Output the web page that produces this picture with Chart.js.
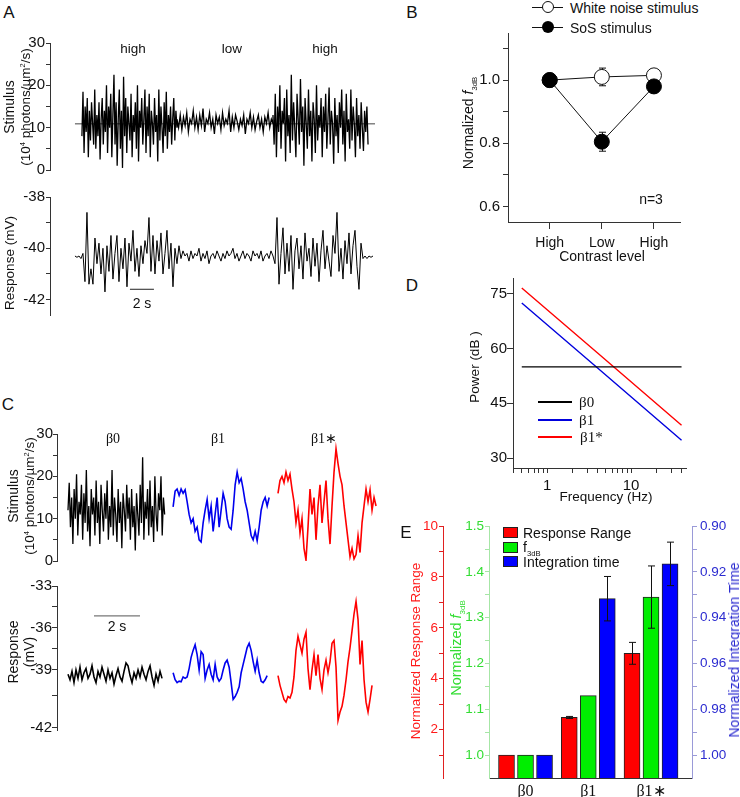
<!DOCTYPE html>
<html>
<head>
<meta charset="utf-8">
<title>Contrast adaptation</title>
<script src="https://cdn.jsdelivr.net/npm/chart.js@4.4.1/dist/chart.umd.min.js"></script>
<style>
  html, body { margin: 0; padding: 0; background: #fff; }
  #fig { position: relative; width: 740px; height: 797px; overflow: hidden;
         font-family: "Liberation Sans", Arial, sans-serif; color: #111; }
  #fig canvas { position: absolute; }
  .t { position: absolute; white-space: nowrap; line-height: 1; font-size: 14px;
       transform: translate(-50%, -50%); }
  .t.rot { transform: translate(-50%, -50%) rotate(-90deg); }
  .t.left { transform: translate(0, -50%); }
  .serif { font-family: "Liberation Serif", "Times New Roman", serif; }
  .letter { font-size: 17px; }
  sup, sub { font-size: 0.55em; line-height: 0; }
  .sw { position: absolute; box-sizing: border-box; }
</style>
</head>
<body>
<div id="fig">
  <canvas id="aStim" width="390" height="150" style="left:0;top:30px"></canvas>
  <canvas id="aResp" width="390" height="140" style="left:0;top:185px"></canvas>
  <canvas id="bChart" width="300" height="240" style="left:440px;top:20px"></canvas>
  <canvas id="cStim" width="395" height="150" style="left:0;top:420px"></canvas>
  <canvas id="cResp" width="395" height="170" style="left:0;top:570px"></canvas>
  <canvas id="dChart" width="300" height="240" style="left:440px;top:265px"></canvas>
  <canvas id="eChart" width="340" height="282" style="left:400px;top:515px"></canvas>

  <!-- panel letters -->
  <div class="t letter" style="left:9px;top:12px">A</div>
  <div class="t letter" style="left:412px;top:12px">B</div>
  <div class="t letter" style="left:8px;top:404px">C</div>
  <div class="t letter" style="left:412px;top:285px">D</div>
  <div class="t letter" style="left:406px;top:532px">E</div>

  <!-- A -->
  <div class="t" style="left:133px;top:49px;font-size:13.5px">high</div>
  <div class="t" style="left:232px;top:49px;font-size:13.5px">low</div>
  <div class="t" style="left:325px;top:49px;font-size:13.5px">high</div>
  <div class="t rot" style="left:9px;top:107px">Stimulus</div>
  <div class="t rot" style="left:26px;top:107px;font-size:13.5px">(10<sup>4</sup> photons/µm<sup>2</sup>/s)</div>
  <div class="t rot" style="left:10px;top:263px;font-size:13.5px">Response (mV)</div>
  <div class="t" style="left:142px;top:303px">2 s</div>

  <!-- B -->
  <div class="sw" style="left:532px;top:7px;width:31px;height:1px;background:#111"></div>
  <div class="sw" style="left:542px;top:1px;width:12px;height:12px;border:1px solid #111;border-radius:50%;background:#fff"></div>
  <div class="t left" style="left:570px;top:7.5px">White noise stimulus</div>
  <div class="sw" style="left:532px;top:27px;width:31px;height:1px;background:#111"></div>
  <div class="sw" style="left:542px;top:21px;width:12px;height:12px;border-radius:50%;background:#000"></div>
  <div class="t left" style="left:570px;top:27.5px">SoS stimulus</div>
  <div class="t rot" style="left:468px;top:123px">Normalized <i>f</i><sub>3dB</sub></div>
  <div class="t" style="left:602px;top:256px">Contrast level</div>
  <div class="t" style="left:651px;top:199px">n=3</div>

  <!-- C -->
  <div class="t serif" style="left:113px;top:439px">β0</div>
  <div class="t serif" style="left:218px;top:439px">β1</div>
  <div class="t serif" style="left:324px;top:439px">β1∗</div>
  <div class="t rot" style="left:13px;top:496px">Stimulus</div>
  <div class="t rot" style="left:30px;top:496px;font-size:13.5px">(10<sup>4</sup> photons/µm<sup>2</sup>/s)</div>
  <div class="t rot" style="left:13px;top:652px">Response</div>
  <div class="t rot" style="left:29px;top:652px">(mV)</div>
  <div class="t" style="left:117px;top:626px">2 s</div>

  <!-- D -->
  <div class="t rot" style="left:475px;top:367px;font-size:13.5px">Power (dB )</div>
  <div class="t" style="left:606px;top:497px;font-size:13.5px">Frequency (Hz)</div>
  <div class="sw" style="left:538px;top:401px;width:34px;height:1.6px;background:#000"></div>
  <div class="t left serif" style="left:579px;top:402px;font-size:15px">β0</div>
  <div class="sw" style="left:538px;top:419px;width:34px;height:1.6px;background:#0000dd"></div>
  <div class="t left serif" style="left:579px;top:420px;font-size:15px">β1</div>
  <div class="sw" style="left:538px;top:436px;width:34px;height:1.6px;background:#ff0000"></div>
  <div class="t left serif" style="left:580px;top:437px;font-size:15px">β1*</div>

  <!-- E -->
  <div class="t rot" style="left:416px;top:651px;color:#ff1a1a;font-size:13.5px">Normalized Response Range</div>
  <div class="t rot" style="left:456px;top:648px;color:#33dd33;font-size:14.5px">Normalized <i>f</i><sub>3dB</sub></div>
  <div class="t rot" style="left:734px;top:650px;color:#2b2bd0">Normalized Integration Time</div>
  <div class="sw" style="left:503px;top:527px;width:15px;height:11px;background:#ff0000;border:1px solid #222"></div>
  <div class="t left" style="left:523px;top:532.5px">Response Range</div>
  <div class="sw" style="left:503px;top:542px;width:15px;height:11px;background:#00ee00;border:1px solid #222"></div>
  <div class="t left" style="left:523px;top:547px">f<sub>3dB</sub></div>
  <div class="sw" style="left:503px;top:556px;width:15px;height:11px;background:#0000ff;border:1px solid #222"></div>
  <div class="t left" style="left:523px;top:561.5px">Integration time</div>
</div>

<script>
// ---------- A: stimulus switching high / low / high contrast ----------
const aStimHigh1 = [8, 18.5, 4, 15, 9, 17, 3, 14, 7, 16,
  11, 6, 19, 5, 13, 8, 16, 2.5, 12, 17,
  6, 14, 9, 20, 4, 15, 10, 18, 3, 13,
  22.5, 6, 16, 1, 12, 19, 5, 14, 0.5, 22,
  8, 17, 4, 15, 11, 7, 18, 3, 13, 9,
  16, 5, 20, 2, 14, 10, 17, 6, 12, 19,
  4, 15, 8, 18, 3, 14, 11, 6, 17, 9,
  13, 2, 19, 7, 15, 10, 4, 16, 8, 18.5,
  5, 13, 9, 15, 6, 12, 17, 7, 14, 10];
const aStimLow = [12, 10, 13, 9.5, 12.5, 10.5, 13.5, 9, 12, 11,
  14, 10, 12.5, 9.5, 13, 10.5, 14.5, 9, 12, 11,
  13.5, 10, 12, 8.5, 13, 11, 12.5, 9.5, 13.5, 10.5,
  12, 11, 14, 9, 12.5, 10, 13, 11.5, 9.5, 12,
  10.5, 13, 8.5, 12, 11, 13.5, 10, 12.5, 9.5, 11.5,
  13, 10, 12, 9, 12.5, 11, 13.5, 10, 12, 11];
const aStimHigh2 = [13, 6, 18, 3, 15, 9, 20, 5, 14, 11,
  17, 2, 19, 8, 13, 4, 22.5, 7, 16, 10,
  3, 18, 12, 6, 21.5, 9, 15, 1, 17, 11,
  5, 19, 8, 14, 2, 16, 12, 4, 20, 7,
  13, 10, 17, 3, 15, 9, 18, 5, 12, 19.5,
  6, 14, 11, 1.5, 17, 8, 13, 4, 16, 10,
  19, 6, 14, 2, 18, 9, 12, 5, 19, 7,
  15, 11, 3, 17, 8, 13, 5, 16, 10, 4.5,
  14, 9, 15, 6];
const aStimMean = 10.9;
const aResponse = [
  -40.3, -40.35, -40.3, -40.4,
  -40.2, -41.3, -38.6, -41.4, -40.8, -41.4, -39.6, -40.6, -39.8, -41.0,
  -40.0, -41.7, -39.9, -40.9, -39.5, -41.2, -40.2, -39.5, -41.3, -40.0,
  -40.8, -39.6, -41.5, -39.8, -40.5, -39.3, -40.9, -40.0, -41.1, -39.9,
  -40.6, -39.7, -40.2, -38.8, -40.9, -39.5, -41.0, -39.7, -40.5, -39.4,
  -41.0, -40.2, -39.3, -40.8, -39.8, -41.5, -40.0, -40.6, -39.9,
  -40.4, -40.1, -40.3, -40.2, -40.5, -40.1, -40.4, -40.2, -40.3, -40.0,
  -40.5, -40.2, -40.4, -40.1, -40.6, -40.3, -40.2, -40.4, -40.1, -40.3,
  -40.5, -40.2, -40.4, -40.1, -40.3, -40.2, -40.0, -40.4, -40.2, -40.5,
  -40.3, -40.1, -40.4, -40.2, -40.3, -40.5, -40.1, -40.3, -40.2, -40.4,
  -40.1, -40.5, -40.3, -40.2, -40.4, -40.1, -40.3, -40.6,
  -38.8, -41.4, -40.2, -39.2, -41.0, -39.8, -40.9, -39.5, -41.6, -40.1,
  -39.6, -40.8, -39.9, -41.2, -39.4, -40.5, -40.0, -41.1, -39.6, -40.7,
  -39.8, -41.3, -40.1, -39.3, -40.8, -39.9, -40.5, -41.1, -39.5, -40.2,
  -38.6, -40.9, -40.0, -41.2, -39.7, -40.6, -39.4, -41.0, -39.9, -39.3,
  -40.7, -41.6, -39.8, -40.4, -40.3, -40.4,
  -40.3, -40.35, -40.3];
const aSegmentTimes = [0.58, 8.5, 16.5, 24.42];   // s: high | low | high
const aTraceSpan = [0, 25];                         // s
const aRespDt = 1 / 6;                              // s per sample
const aScaleBar = { start: 4.58, length: 2, level: -41.6 };
const aStimTicks = [0, 5, 10, 15, 20, 25, 30];
const aStimTickLabels = [0, 10, 20, 30];
const aRespTicks = [-42, -41, -40, -39, -38];
const aRespTickLabels = [-42, -40, -38];

// ---------- B: normalized f3dB vs contrast ----------
const contrastLevels = ['High', 'Low', 'High'];
const whiteNoiseF3db = [1.0, 1.01, 1.015];
const whiteNoiseSem = [0, 0.028, 0.015];
const sosF3db = [1.0, 0.805, 0.98];
const sosSem = [0, 0.03, 0.01];
const bTicks = [0.6, 0.7, 0.8, 0.9, 1.0, 1.1];
const bTickLabels = [0.6, 0.8, 1.0];

// ---------- C: β0 / β1 / β1* stimuli and responses ----------
const cStimBeta0 = [12, 18.5, 8, 15, 4, 17, 10, 20.5, 6, 14,
  11, 18, 5, 16, 9, 21.5, 7, 13, 3.5, 17,
  11, 15, 6, 19, 9, 14, 4, 18, 12, 7,
  16, 10, 19, 5, 13, 8, 21.5, 6, 15, 11,
  4.5, 17, 9, 14, 3, 16, 12, 7, 18, 10,
  15, 5, 17, 8, 13, 2.5, 16, 11, 6, 18,
  9, 24.5, 5, 14, 10, 17, 6, 19, 8, 13,
  4.5, 20, 11, 7, 16, 12, 20, 6, 15, 11];
const cStimBeta1 = [12.8, 16.5, 17, 15.5, 17, 16, 16.8, 14, 11, 9,
  10, 7, 8, 5, 4.5, 9, 12, 14.5, 10, 13,
  7, 11, 15, 8, 12, 16, 14, 10, 8, 7.5,
  12, 18, 21, 18.5, 19.5, 17, 14, 12, 9, 6,
  5, 7, 4.8, 8, 12, 14, 15, 13, 15];
const cStimBeta1s = [16, 19, 20, 18.5, 21, 19, 20.5, 17, 14, 9,
  12, 6.6, 10, 3, 0.2, 8, 17, 11, 15, 5,
  13, 18, 9, 14, 19, 10, 4, 13, 21, 26.5,
  23, 20, 18, 13, 9, 5, 1, 3, 0.5, 1.5,
  6, 2, 9, 13, 17, 14, 16.8, 12, 15, 13];
const cRespBeta0 = [-39.3, -39.7, -39.1, -39.9, -39.0, -39.6, -38.8, -39.7, -39.2, -38.9,
  -39.6, -39.3, -38.7, -39.5, -39.9, -39.1, -39.5, -38.8, -39.3, -39.8,
  -39.0, -39.6, -39.2, -40.0, -39.4, -38.9, -39.5, -39.8, -39.1, -38.5,
  -38.7, -39.4, -39.9, -39.2, -39.6, -39.0, -39.5, -38.8, -39.3, -39.7,
  -39.1, -38.7, -39.5, -40.1, -39.3, -39.8, -39.1, -39.6];
const cRespBeta1 = [-39.2, -39.7, -39.9, -39.8, -39.85, -39.5, -39.6, -39.5, -38.9, -38.1,
  -37.6, -37.2, -37.9, -39.0, -37.7, -37.9, -39.6, -39.0, -38.6, -39.3,
  -39.7, -38.6, -39.5, -39.8, -39.6, -39.0, -38.5, -38.3, -38.8, -39.9,
  -41.1, -40.9, -40.6, -40.2, -39.2, -38.6, -38.0, -37.4, -37.1, -37.6,
  -38.4, -39.1, -38.3, -39.2, -39.8, -39.9, -39.7, -39.4];
const cRespBeta1s = [-39.4, -40.1, -40.6, -41.1, -41.3, -40.9, -41.0, -40.6, -39.5, -37.6,
  -36.6, -37.2, -37.8, -36.8, -36.3, -38.9, -40.4, -39.0, -37.9, -39.4,
  -37.9, -39.6, -40.4, -39.0, -38.3, -39.2, -38.4, -37.1, -36.9, -38.8,
  -42.6, -42.0, -41.6, -40.8, -39.7, -38.4, -37.4, -36.2, -35.0, -34.1,
  -35.4, -38.6, -36.9, -39.7, -41.3, -42.0, -41.1, -40.1];
const cTraceStart = [0, 4.57, 9.13];        // s, start of each stimulus class
const cStimDt = [0.0532, 0.087, 0.087];     // s per sample
const cRespDt = 0.087;                      // s per sample
const cScaleBar = { start: 1.13, length: 2, level: -35.14 };
const cStimTicks = [0, 5, 10, 15, 20, 25, 30];
const cStimTickLabels = [0, 10, 20, 30];
const cRespTicks = [-33, -34.5, -36, -37.5, -39, -40.8, -43.14];
const cRespTickText = { '-33': '-33', '-36': '-36', '-39': '-39', '-43.14': '-42' };

// ---------- D: power spectra ----------
const psdFreqHz = [0.5, 4, 40];
const psdBeta0 = [55, 55, 55];
const psdBeta1 = [72.5, 54.7, 34.9];
const psdBeta1s = [76.6, 58.8, 39.0];
const dPowerTicks = [30, 45, 60, 75];
const dFreqTicks = [0.4, 0.5, 0.6, 0.7, 0.8, 0.9, 1, 2, 3, 4, 5, 6, 7, 8, 9, 10, 20, 30, 40];
const dFreqTickLabels = [1, 10];

// ---------- E: normalized measures per stimulus class ----------
const stimClasses = ['β0', 'β1', 'β1∗'];
const respRange = [1.0, 2.48, 5.0];
const respRangeSem = [0, 0.04, 0.43];
const f3db = [1.0, 1.13, 1.345];
const f3dbSem = [0, 0, 0.068];
const intTime = [1.0, 0.9317, 0.9165];
const intTimeSem = [0, 0.0097, 0.0095];
const eRangeTicks = [1, 2, 3, 4, 5, 6, 7, 8, 9, 10];
const eRangeTickLabels = [2, 4, 6, 8, 10];
const eF3dbTicks = [1.0, 1.05, 1.1, 1.15, 1.2, 1.25, 1.3, 1.35, 1.4, 1.45, 1.5];
const eF3dbTickLabels = [1.0, 1.1, 1.2, 1.3, 1.4, 1.5];
const eTimeTicks = [0.90, 0.91, 0.92, 0.93, 0.94, 0.95, 0.96, 0.97, 0.98, 0.99, 1.00];
const eTimeTickLabels = [0.90, 0.92, 0.94, 0.96, 0.98, 1.00];

// ---------- helpers ----------
const AXIS = '#333';
Chart.defaults.font.family = '"Liberation Sans", Arial, sans-serif';
Chart.defaults.color = '#111';

function spread(values, t0, t1) {
  const step = (t1 - t0) / (values.length - 1);
  return values.map((v, i) => ({ x: t0 + i * step, y: v }));
}

function sampled(values, t0, dt) {
  return values.map((v, i) => ({ x: t0 + i * dt, y: v }));
}

function trace(points, color, width, order) {
  return {
    data: points, borderColor: color, borderWidth: width,
    pointRadius: 0, tension: 0, fill: false, order: order || 0
  };
}

function yAxis(o) {
  return {
    type: 'linear',
    position: o.position || 'left',
    min: o.min, max: o.max,
    bounds: 'data',
    reverse: !!o.reverse,
    weight: o.weight || 0,
    afterBuildTicks: s => { s.ticks = o.ticks.map(v => ({ value: v })); },
    afterFit: s => { s.width = o.width; },
    ticks: {
      autoSkip: false,
      padding: o.pad !== undefined ? o.pad : 1,
      color: o.color || '#111',
      font: { size: o.size || 15 },
      callback: v => o.label(v)
    },
    grid: { drawOnChartArea: false, tickLength: o.tick || 4, color: o.line || AXIS, tickColor: o.line || AXIS },
    border: { color: o.line || AXIS, width: 1 }
  };
}

function showOnly(list, digits) {
  return v => list.includes(v) ? (digits ? v.toFixed(digits) : String(v)) : '';
}

function baseOptions(padding, scales, extraPlugins) {
  return {
    responsive: false,
    animation: false,
    devicePixelRatio: 1,
    events: [],
    layout: { padding: padding, autoPadding: false },
    plugins: Object.assign({ legend: { display: false }, tooltip: { enabled: false } }, extraPlugins || {}),
    scales: scales
  };
}

// error bars drawn from each dataset's `sem` array
function drawErrorBars(chart) {
  const ctx = chart.ctx;
  chart.data.datasets.forEach((ds, i) => {
    if (!ds.sem) return;
    const meta = chart.getDatasetMeta(i);
    const ys = chart.scales[meta.yAxisID];
    ctx.save();
    ctx.strokeStyle = '#111';
    ctx.lineWidth = 1;
    meta.data.forEach((el, j) => {
      const e = ds.sem[j];
      if (!e) return;
      const v = ds.data[j].y;
      const x = Math.round(el.x) + 0.5;
      const y1 = ys.getPixelForValue(v - e);
      const y2 = ys.getPixelForValue(v + e);
      ctx.beginPath();
      ctx.moveTo(x, y1); ctx.lineTo(x, y2);
      ctx.moveTo(x - 3.5, y1); ctx.lineTo(x + 3.5, y1);
      ctx.moveTo(x - 3.5, y2); ctx.lineTo(x + 3.5, y2);
      ctx.stroke();
    });
    ctx.restore();
  });
}

const errorBars = {
  id: 'errorBars',
  beforeDatasetsDraw(chart, args, opts) { if (opts.behind) drawErrorBars(chart); },
  afterDatasetsDraw(chart, args, opts) { if (!opts.behind) drawErrorBars(chart); }
};

// ---------- A ----------
const aStimPoints = [].concat(
  spread(aStimHigh1, aSegmentTimes[0], aSegmentTimes[1]),
  spread(aStimLow, aSegmentTimes[1], aSegmentTimes[2]),
  spread(aStimHigh2, aSegmentTimes[2], aSegmentTimes[3])
);

new Chart(document.getElementById('aStim'), {
  type: 'line',
  data: {
    datasets: [
      trace(aStimPoints, '#000', 1.3, 0),
      trace(aTraceSpan.map(t => ({ x: t, y: aStimMean })), '#444', 1, 1)
    ]
  },
  options: baseOptions({ left: 0, right: 15, top: 13, bottom: 10 }, {
    x: { type: 'linear', min: -2.08, max: 25, display: false },
    y: yAxis({ min: 0, max: 30, ticks: aStimTicks, label: showOnly(aStimTickLabels), width: 50, tick: 4, pad: 1 })
  })
});

new Chart(document.getElementById('aResp'), {
  type: 'line',
  data: {
    datasets: [
      trace(sampled(aResponse, 0, aRespDt), '#000', 1, 0),
      trace([{ x: aScaleBar.start, y: aScaleBar.level },
             { x: aScaleBar.start + aScaleBar.length, y: aScaleBar.level }], '#555', 1.3, 1)
    ]
  },
  options: baseOptions({ left: 0, right: 15, top: 12, bottom: 5 }, {
    x: { type: 'linear', min: -2.08, max: 25, display: false },
    y: yAxis({ min: -42.6, max: -38, ticks: aRespTicks, label: showOnly(aRespTickLabels), width: 50, tick: 4, pad: 1 })
  })
});

// ---------- B ----------
new Chart(document.getElementById('bChart'), {
  type: 'line',
  data: {
    datasets: [
      {
        label: 'SoS stimulus',
        data: contrastLevels.map((c, i) => ({ x: i, y: sosF3db[i] })),
        sem: sosSem,
        borderColor: '#111', borderWidth: 1,
        pointRadius: 7.5, pointBorderWidth: 1,
        pointBackgroundColor: '#000', pointBorderColor: '#000',
        order: 0
      },
      {
        label: 'White noise stimulus',
        data: contrastLevels.map((c, i) => ({ x: i, y: whiteNoiseF3db[i] })),
        sem: whiteNoiseSem,
        borderColor: '#111', borderWidth: 1,
        pointRadius: 7.5, pointBorderWidth: 1,
        pointBackgroundColor: '#fff', pointBorderColor: '#111',
        order: 1
      }
    ]
  },
  options: baseOptions({ left: 0, right: 60, top: 13, bottom: 8 }, {
    x: {
      type: 'linear', min: -0.8, max: 2.5, bounds: 'data',
      afterBuildTicks: s => { s.ticks = contrastLevels.map((c, i) => ({ value: i })); },
      afterFit: s => { s.height = 30; },
      ticks: { autoSkip: false, maxRotation: 0, padding: 6, font: { size: 14 }, callback: v => contrastLevels[v] },
      grid: { drawOnChartArea: false, tickLength: 7, color: AXIS, tickColor: AXIS },
      border: { color: AXIS, width: 1 }
    },
    y: yAxis({ min: 0.551, max: 1.149, ticks: bTicks, label: showOnly(bTickLabels, 1), width: 68, tick: 5, pad: 3 })
  }, { errorBars: { behind: true } }),
  plugins: [errorBars]
});

// ---------- C ----------
const cStimSets = [cStimBeta0, cStimBeta1, cStimBeta1s];
const cRespSets = [cRespBeta0, cRespBeta1, cRespBeta1s];
const cColors = ['#000', '#0000ee', '#ff0000'];
const cStimWidths = [1.3, 1.6, 1.6];

new Chart(document.getElementById('cStim'), {
  type: 'line',
  data: {
    datasets: cStimSets.map((vals, k) =>
      trace(sampled(vals, cTraceStart[k], cStimDt[k]), cColors[k], cStimWidths[k], 0))
  },
  options: baseOptions({ left: 0, right: 15, top: 14, bottom: 9 }, {
    x: { type: 'linear', min: -0.478, max: 13.565, display: false },
    y: yAxis({ min: 0, max: 30, ticks: cStimTicks, label: showOnly(cStimTickLabels), width: 57, tick: 4, pad: 0 })
  })
});

new Chart(document.getElementById('cResp'), {
  type: 'line',
  data: {
    datasets: cRespSets.map((vals, k) =>
      trace(sampled(vals, cTraceStart[k], cRespDt), cColors[k], 1.6, 0))
      .concat([trace([{ x: cScaleBar.start, y: cScaleBar.level },
                      { x: cScaleBar.start + cScaleBar.length, y: cScaleBar.level }], '#777', 1.2, 1)])
  },
  options: baseOptions({ left: 0, right: 15, top: 16, bottom: 10 }, {
    x: { type: 'linear', min: -0.478, max: 13.565, display: false },
    y: yAxis({ min: -43.29, max: -33, ticks: cRespTicks, label: v => cRespTickText[String(v)] || '', width: 57, tick: 5, pad: 0 })
  })
});

// ---------- D ----------
new Chart(document.getElementById('dChart'), {
  type: 'line',
  data: {
    datasets: [
      trace(psdFreqHz.map((f, i) => ({ x: f, y: psdBeta0[i] })), '#000', 1.4, 0),
      trace(psdFreqHz.map((f, i) => ({ x: f, y: psdBeta1[i] })), '#0000dd', 1.4, 0),
      trace(psdFreqHz.map((f, i) => ({ x: f, y: psdBeta1s[i] })), '#ff0000', 1.4, 0)
    ]
  },
  options: baseOptions({ left: 0, right: 54, top: 13, bottom: 0 }, {
    x: {
      type: 'logarithmic', min: 0.393, max: 45.2, bounds: 'data',
      afterBuildTicks: s => { s.ticks = dFreqTicks.map(v => ({ value: v })); },
      afterFit: s => { s.height = 37; },
      ticks: { autoSkip: false, maxRotation: 0, padding: 4, font: { size: 15 }, callback: v => dFreqTickLabels.includes(v) ? String(v) : '' },
      grid: { drawOnChartArea: false, tickLength: 5, color: AXIS, tickColor: AXIS },
      border: { color: AXIS, width: 1 }
    },
    y: yAxis({ min: 27.27, max: 79.36, ticks: dPowerTicks, label: showOnly(dPowerTicks), width: 73, tick: 6, pad: 0 })
  })
});

// ---------- E ----------
const barShift = [-0.303, 0, 0.303];   // red / green / blue within a class
const eTimeBase = 1.01;

new Chart(document.getElementById('eChart'), {
  type: 'bar',
  data: {
    datasets: [
      {
        label: 'Response Range', yAxisID: 'yR',
        data: stimClasses.map((c, i) => ({ x: i + barShift[0], y: respRange[i] })),
        sem: respRangeSem, backgroundColor: '#ff0000'
      },
      {
        label: 'f3dB', yAxisID: 'yG',
        data: stimClasses.map((c, i) => ({ x: i + barShift[1], y: f3db[i] })),
        sem: f3dbSem, backgroundColor: '#00ee00'
      },
      {
        label: 'Integration time', yAxisID: 'yB', base: eTimeBase,
        data: stimClasses.map((c, i) => ({ x: i + barShift[2], y: intTime[i] })),
        sem: intTimeSem, backgroundColor: '#0000ff'
      }
    ]
  },
  options: Object.assign(baseOptions({ left: 0, right: 0, top: 10, bottom: 0 }, {
    x: {
      type: 'linear', min: -0.582, max: 2.653, offset: false, bounds: 'data',
      afterBuildTicks: s => { s.ticks = stimClasses.map((c, i) => ({ value: i })); },
      afterFit: s => { s.height = 19; },
      ticks: { autoSkip: false, maxRotation: 0, padding: 4,
               font: { family: '"Liberation Serif", "Times New Roman", serif', size: 16 },
               callback: v => stimClasses[v] },
      grid: { display: false, drawTicks: false, offset: false },
      border: { display: true, color: AXIS, width: 1 }
    },
    yG: yAxis({ min: 0.95, max: 1.5, ticks: eF3dbTicks, label: showOnly(eF3dbTickLabels, 1),
                width: 46, tick: 4, pad: 1, size: 13.5, color: '#33dd33', line: '#a6e6a6', weight: 0 }),
    yR: yAxis({ min: 0.1, max: 10, ticks: eRangeTicks, label: showOnly(eRangeTickLabels),
                width: 43, tick: 4, pad: 1, size: 13.5, color: '#ff1a1a', line: '#e02020', weight: 1 }),
    yB: yAxis({ position: 'right', min: 0.9, max: 1.01, reverse: true, ticks: eTimeTicks,
                label: showOnly(eTimeTickLabels, 2), width: 48, tick: 5, pad: 3, size: 13.5,
                color: '#2b2bd0', line: '#9a9ad8' })
  }, { errorBars: { behind: false } }), {
    datasets: { bar: { barThickness: 16, grouped: false, borderColor: '#222', borderWidth: 1 } }
  }),
  plugins: [errorBars]
});
</script>
</body>
</html>
